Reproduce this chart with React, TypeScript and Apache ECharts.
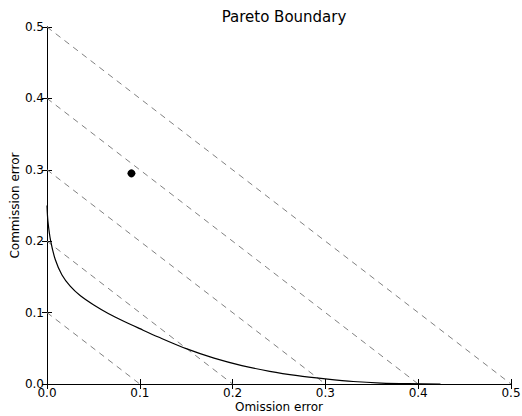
import React, { useEffect, useRef } from "react";
import * as echarts from "echarts";

const titleText = "Pareto Boundary";
const xName = "Omission error";
const yName = "Commission error";

// Iso-error lines x + y = c
const isoLevels = [0.1, 0.2, 0.3, 0.4, 0.5];

// Pareto boundary
const boundaryX = [0, 0.001, 0.004, 0.009, 0.016, 0.025, 0.036, 0.05, 0.066, 0.085, 0.1, 0.12, 0.15, 0.18, 0.21, 0.24, 0.27, 0.3, 0.33, 0.36, 0.39, 0.424];
const boundaryY = [0.25, 0.228, 0.2, 0.174, 0.153, 0.137, 0.1235, 0.111, 0.0988, 0.0865, 0.0775, 0.0658, 0.0495, 0.0362, 0.0258, 0.0178, 0.0118, 0.0073, 0.0035, 0.0013, 0.0004, 0];

// Observed operating point
const pointX = 0.091;
const pointY = 0.295;

const ticks = [0, 0.1, 0.2, 0.3, 0.4, 0.5];

const FONT = "DejaVu Sans";

export default function App() {
  const ref = useRef<HTMLDivElement>(null);
  useEffect(() => {
    if (!ref.current) return;
    const chart = echarts.init(ref.current, null, { renderer: "svg" });
    const axisCommon = {
      type: "value" as const,
      min: ticks[0],
      max: ticks[ticks.length - 1],
      interval: 0.1,
      splitLine: { show: false },
      axisLine: { show: true, lineStyle: { color: "#000", width: 1 } },
      axisTick: { show: true, inside: true, length: 5, lineStyle: { color: "#000" } },
    };
    const isoSeries = isoLevels.map((c) => ({
      type: "line",
      data: [
        [0, c],
        [c, 0],
      ],
      symbol: "none",
      lineStyle: { color: "#808080", width: 1, type: [6, 5] },
      silent: true,
      z: 1,
    }));
    chart.setOption({
      animation: false,
      backgroundColor: "#fff",
      title: {
        text: titleText,
        left: 279,
        textAlign: "center",
        top: 4,
        textStyle: { fontFamily: FONT, fontSize: 15, fontWeight: "normal", color: "#000" },
      },
      grid: { left: 47, right: 11, top: 27, bottom: 32, containLabel: false, outerBoundsMode: "none" },
      xAxis: [
        {
          ...axisCommon,
          position: "bottom",
          name: xName,
          nameLocation: "middle",
          nameGap: 17,
          nameMoveOverlap: false,
          nameTextStyle: { fontFamily: FONT, fontSize: 12, color: "#000" },
          axisLabel: {
            fontFamily: FONT,
            fontSize: 12,
            color: "#000",
            margin: 3,
            formatter: (v: number) => v.toFixed(1),
          },
        },
        {
          ...axisCommon,
          position: "top",
          axisLabel: { show: false },
        },
      ],
      yAxis: [
        {
          ...axisCommon,
          position: "left",
          name: yName,
          nameLocation: "middle",
          nameGap: 26,
          nameMoveOverlap: false,
          nameTextStyle: { fontFamily: FONT, fontSize: 12, color: "#000" },
          axisLabel: {
            fontFamily: FONT,
            fontSize: 12,
            color: "#000",
            margin: 3,
            formatter: (v: number) => v.toFixed(1),
          },
        },
        {
          ...axisCommon,
          position: "right",
          axisLabel: { show: false },
        },
      ],
      series: [
        ...isoSeries,
        {
          type: "line",
          data: boundaryX.map((x, i) => [x, boundaryY[i]]),
          symbol: "none",
          smooth: 0.3,
          lineStyle: { color: "#000", width: 1.2 },
          z: 2,
        },
        {
          type: "scatter",
          data: [[pointX, pointY]],
          symbol: "circle",
          symbolSize: 8,
          itemStyle: { color: "#000", opacity: 1 },
          z: 3,
        },
      ],
    });
    return () => chart.dispose();
  }, []);
  return <div ref={ref} style={{ width: 522, height: 416, position: "absolute", left: 0, top: 0 }} />;
}
